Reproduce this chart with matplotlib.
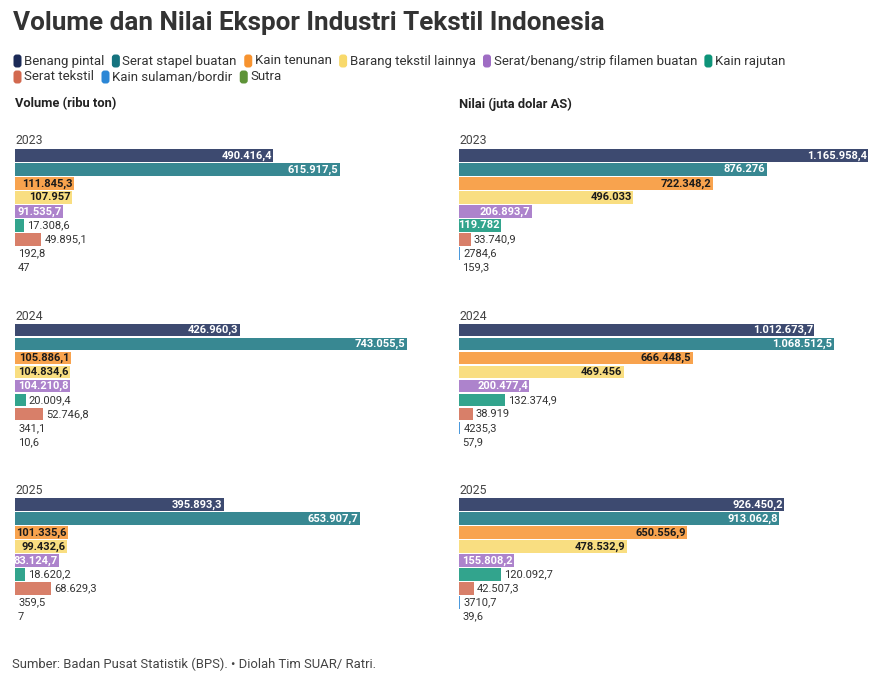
"""
Volume dan nilai ekspor industri tekstil Indonesia, 2023-2025.
"""

import matplotlib
matplotlib.use("Agg")
import matplotlib.pyplot as plt
from matplotlib.patches import FancyBboxPatch

plt.rcParams["font.family"] = ["Roboto", "DejaVu Sans"]

W, H = 889, 684

categories = [
    "Benang pintal",
    "Serat stapel buatan",
    "Kain tenunan",
    "Barang tekstil lainnya",
    "Serat/benang/strip filamen buatan",
    "Kain rajutan",
    "Serat tekstil",
    "Kain sulaman/bordir",
    "Sutra",
]
colors = ["#1b2a57", "#15737f", "#f7932f", "#f8d96b", "#9f6dc4",
          "#0e9479", "#d2694f", "#2b87d6", "#5e9338"]
dark_text = ["Kain tenunan", "Barang tekstil lainnya"]

years = ["2023", "2024", "2025"]

# volume, ribu ton
volume_2023 = [490416.4, 615917.5, 111845.3, 107957, 91535.7, 17308.6, 49895.1, 192.8, 47]
volume_2024 = [426960.3, 743055.5, 105886.1, 104834.6, 104210.8, 20009.4, 52746.8, 341.1, 10.6]
volume_2025 = [395893.3, 653907.7, 101335.6, 99432.6, 83124.7, 18620.2, 68629.3, 359.5, 7]

# nilai, juta dolar AS
nilai_2023 = [1165958.4, 876276, 722348.2, 496033, 206893.7, 119782, 33740.9, 2784.6, 159.3]
nilai_2024 = [1012673.7, 1068512.5, 666448.5, 469456, 200477.4, 132374.9, 38919, 4235.3, 57.9]
nilai_2025 = [926450.2, 913062.8, 650556.9, 478532.9, 155808.2, 120092.7, 42507.3, 3710.7, 39.6]

volume = [volume_2023, volume_2024, volume_2025]
nilai = [nilai_2023, nilai_2024, nilai_2025]


def fmt_id(v):
    """Format angka gaya Indonesia: titik ribuan, koma desimal."""
    if float(v).is_integer():
        s, dec = str(int(v)), ""
    else:
        s, dec = str(int(v)), "," + f"{v:.1f}".split(".")[1]
    if v >= 10000:
        parts = []
        while len(s) > 3:
            parts.insert(0, s[-3:])
            s = s[:-3]
        parts.insert(0, s)
        s = ".".join(parts)
    return s + dec


def px_rect(left, top, width, height):
    return [left / W, 1 - (top + height) / H, width / W, height / H]


fig = plt.figure(figsize=(W / 100, H / 100), dpi=100)
fig.patch.set_facecolor("white")

# overlay in pixel coordinates for title, legend and captions
over = fig.add_axes([0, 0, 1, 1])
over.set_xlim(0, W)
over.set_ylim(H, 0)
over.axis("off")

over.text(13, 23, "Volume dan Nilai Ekspor Industri Tekstil Indonesia",
          fontsize=18.8, fontweight="bold", color="#333333", va="center")

# legend, laid out by measured text widths
fig.canvas.draw()
renderer = fig.canvas.get_renderer()
rows = [categories[:6], categories[6:]]
row_y = [61, 77]
for r, names in enumerate(rows):
    x = 13
    for name in names:
        c = colors[categories.index(name)]
        over.add_patch(FancyBboxPatch((x + 0.5, row_y[r] - 6.5), 8, 13,
                                      boxstyle="round,pad=0,rounding_size=3",
                                      fc=c, ec="none"))
        t = over.text(x + 11, row_y[r], name, fontsize=9.5, color="#333333",
                      va="center", ha="left")
        bb = t.get_window_extent(renderer)
        x = x + 11 + bb.width + 7

over.text(15, 104, "Volume (ribu ton)", fontsize=9.3, fontweight="semibold",
          color="#222222", va="center")
over.text(459, 104, "Nilai (juta dolar AS)", fontsize=9.3, fontweight="semibold",
          color="#222222", va="center")
over.text(12, 664, "Sumber: Badan Pusat Statistik (BPS). \u2022 Diolah Tim SUAR/ Ratri.",
          fontsize=9.4, color="#444444", va="center")

group_top = [148.5, 323, 497.5]
year_y = [141, 316.5, 490]
panels = [
    (15, 425, 425 / 0.000527, volume),
    (459, 421, 421 / 0.000351, nilai),
]

y_pos = list(range(len(categories)))
for left, width, xmax, data in panels:
    for g, year in enumerate(years):
        over.text(left, year_y[g], year, fontsize=8.8, color="#444444", va="center")
        ax = fig.add_axes(px_rect(left, group_top[g], width, 126))
        vals = data[g]
        ax.barh(y_pos, vals, height=0.88, color=colors, alpha=0.85, linewidth=0)
        ax.set_xlim(0, xmax)
        ax.set_ylim(len(categories) - 0.5, -0.5)
        ax.axis("off")
        px_per_unit = width / xmax
        for i, v in enumerate(vals):
            label = fmt_id(v)
            t = ax.text(v - 1.5 / px_per_unit, i, label, fontsize=8,
                        fontweight="bold", ha="right", va="center",
                        color="#1a1a1a" if categories[i] in dark_text else "white")
            tw = t.get_window_extent(renderer).width
            if tw > v * px_per_unit + 1:
                t.set_x(v + 3 / px_per_unit)
                t.set_ha("left")
                t.set_fontweight("normal")
                t.set_color("#333333")

fig.savefig("out.png", dpi=100, facecolor="white")
